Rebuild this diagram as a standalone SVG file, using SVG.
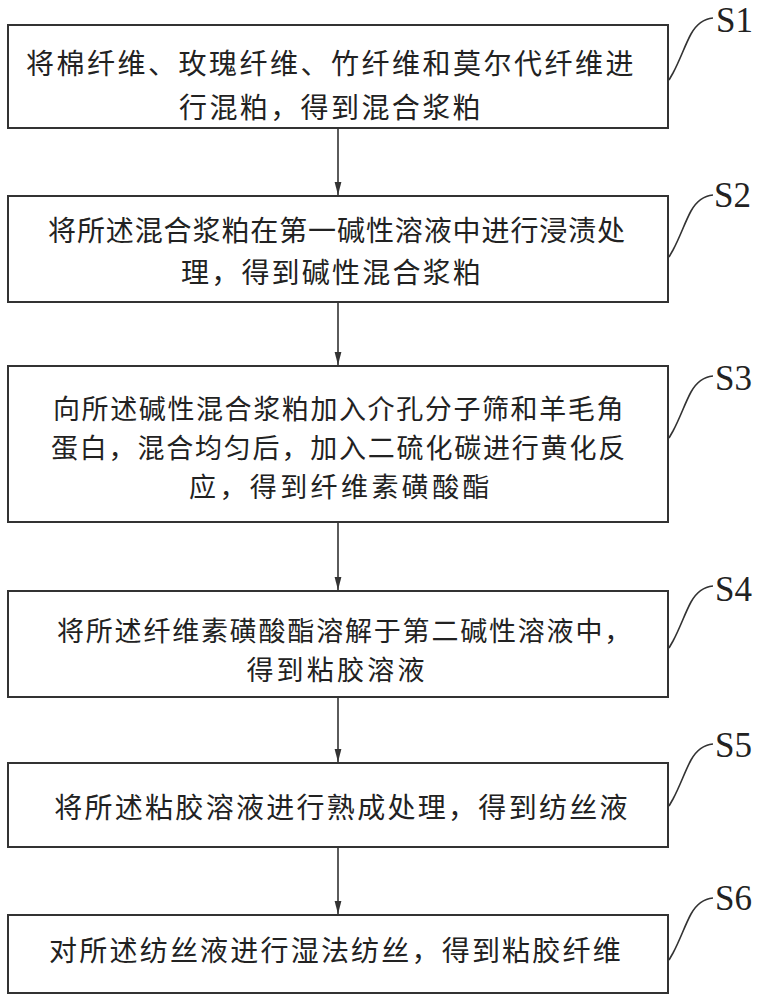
<svg xmlns="http://www.w3.org/2000/svg" width="759" height="1000" viewBox="0 0 759 1000">
<defs>
<style>
.box{fill:#fff;stroke:#333;stroke-width:2}
.t{font-family:"Noto Sans CJK SC","Noto Sans CJK JP",sans-serif;font-size:28px;fill:#222;text-anchor:middle}
.s{font-size:27px}
.lbl{font-family:"Liberation Serif","DejaVu Serif",serif;font-size:35px;fill:#222}
.ld{fill:none;stroke:#333;stroke-width:1.6}
.ar{fill:none;stroke:#333;stroke-width:1.6}
</style>
<marker id="ah" markerUnits="userSpaceOnUse" markerWidth="14" markerHeight="8" refX="13" refY="4" orient="auto" viewBox="0 0 14 8">
<path d="M0,0.6 L13,4 L0,7.4 Z" fill="#333"/>
</marker>
</defs>
<rect width="759" height="1000" fill="#fff"/>

<g id="connectors">
<line class="ar" x1="338" y1="128" x2="338" y2="195" marker-end="url(#ah)"/>
<line class="ar" x1="338" y1="302" x2="338" y2="365" marker-end="url(#ah)"/>
<line class="ar" x1="338" y1="522" x2="338" y2="590" marker-end="url(#ah)"/>
<line class="ar" x1="338" y1="697" x2="338" y2="762" marker-end="url(#ah)"/>
<line class="ar" x1="338" y1="847" x2="338" y2="914" marker-end="url(#ah)"/>
</g>

<g id="S1">
<rect class="box" x="8" y="25" width="660" height="103"/>
<text class="t" x="331" y="74" letter-spacing="2.5">将棉纤维、玫瑰纤维、竹纤维和莫尔代纤维进</text>
<text class="t" x="331" y="118" letter-spacing="2.4">行混粕，得到混合浆粕</text>
<path class="ld" d="M669,80 l4,-7 c7,-13 12,-28 18,-39 c5,-9 11,-15 22,-16"/>
<text class="lbl" x="716" y="32">S1</text>
</g>

<g id="S2">
<rect class="box" x="8" y="196" width="660" height="106"/>
<text class="t" x="337" y="241" letter-spacing="0.9">将所述混合浆粕在第一碱性溶液中进行浸渍处</text>
<text class="t" x="332" y="283" letter-spacing="2.2">理，得到碱性混合浆粕</text>
<path class="ld" d="M669,257 l4,-7 c7,-13 12,-28 18,-39 c5,-9 11,-15 22,-16"/>
<text class="lbl" x="714" y="207">S2</text>
</g>

<g id="S3">
<rect class="box" x="8" y="366" width="660" height="156"/>
<text class="t s" x="339" y="419" letter-spacing="1.6">向所述碱性混合浆粕加入介孔分子筛和羊毛角</text>
<text class="t s" x="339" y="458" letter-spacing="1.8">蛋白，混合均匀后，加入二硫化碳进行黄化反</text>
<text class="t s" x="341" y="497" letter-spacing="3.4">应，得到纤维素磺酸酯</text>
<path class="ld" d="M669,438 l4,-7 c7,-13 12,-28 18,-39 c5,-9 11,-15 22,-16"/>
<text class="lbl" x="715" y="390">S3</text>
</g>

<g id="S4">
<rect class="box" x="8" y="591" width="660" height="106"/>
<text class="t s" x="345" y="641" letter-spacing="1.8">将所述纤维素磺酸酯溶解于第二碱性溶液中，</text>
<text class="t s" x="337" y="680" letter-spacing="3.2">得到粘胶溶液</text>
<path class="ld" d="M669,648 l4,-7 c7,-13 12,-28 18,-39 c5,-9 11,-15 22,-16"/>
<text class="lbl" x="715" y="601">S4</text>
</g>

<g id="S5">
<rect class="box" x="8" y="763" width="660" height="84"/>
<text class="t" x="342" y="818" letter-spacing="2.3">将所述粘胶溶液进行熟成处理，得到纺丝液</text>
<path class="ld" d="M669,806 l4,-7 c7,-13 12,-28 18,-39 c5,-9 11,-15 22,-16"/>
<text class="lbl" x="715" y="757">S5</text>
</g>

<g id="S6">
<rect class="box" x="8" y="915" width="660" height="78"/>
<text class="t" x="336" y="961" letter-spacing="2.2">对所述纺丝液进行湿法纺丝，得到粘胶纤维</text>
<path class="ld" d="M669,960 l4,-7 c7,-13 12,-28 18,-39 c5,-9 11,-15 22,-16"/>
<text class="lbl" x="715" y="910">S6</text>
</g>
</svg>
